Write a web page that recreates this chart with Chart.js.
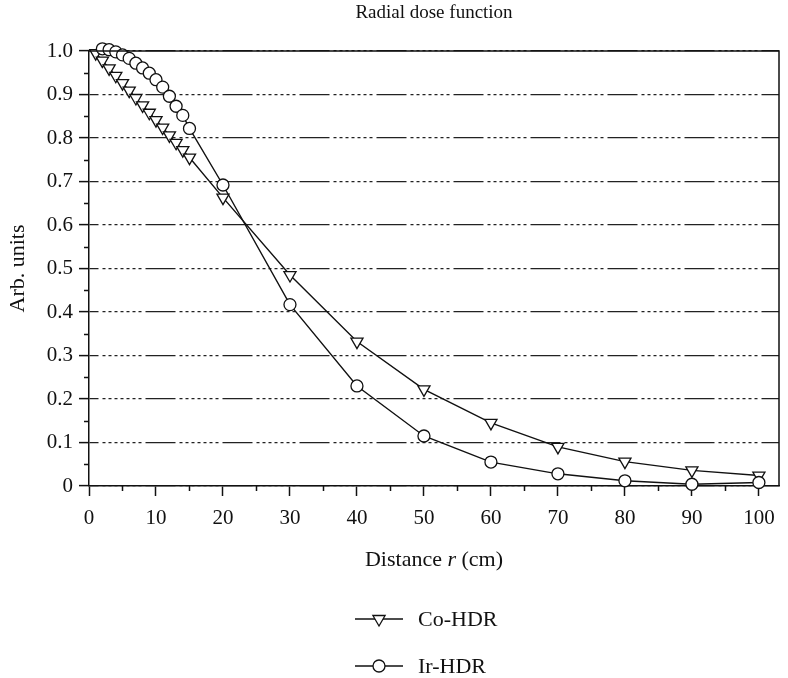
<!DOCTYPE html>
<html>
<head>
<meta charset="utf-8">
<title>Radial dose function</title>
<script src="https://cdn.jsdelivr.net/npm/chart.js@4.4.1/dist/chart.umd.min.js"></script>
<style>
  html, body { margin: 0; padding: 0; background: #fff; }
  #wrap { position: relative; width: 788px; height: 678px; }
  #chart { display: block; }
  .legend-item { position: absolute; display: flex; align-items: center; font: 22px "Liberation Serif", serif; color: #111; }
  .legend-item svg { display: block; }
  .legend-item span { margin-left: 15px; }
</style>
</head>
<body>
<div id="wrap">
  <canvas id="chart" width="788" height="678"></canvas>
</div>
<script>
// distances (cm) and relative dose values
const distCo = [1, 2, 3, 4, 5, 6, 7, 8, 9, 10, 11, 12, 13, 14, 15, 20, 30, 40, 50, 60, 70, 80, 90, 100];
const coHdr = [0.995, 0.978, 0.960, 0.943, 0.926, 0.909, 0.892, 0.875, 0.858, 0.841, 0.824, 0.806, 0.789, 0.772, 0.755,
               0.663, 0.485, 0.332, 0.222, 0.145, 0.090, 0.056, 0.036, 0.024];

const distIr = [2, 3, 4, 5, 6, 7, 8, 9, 10, 11, 12, 13, 14, 15, 20, 30, 40, 50, 60, 70, 80, 90, 100];
const irHdr = [1.005, 1.003, 0.998, 0.991, 0.983, 0.972, 0.961, 0.949, 0.934, 0.917, 0.896, 0.873, 0.852, 0.822,
               0.692, 0.417, 0.230, 0.115, 0.055, 0.028, 0.012, 0.004, 0.008];

const seriesLabels = ['Co-HDR', 'Ir-HDR'];

const xMajorTicks = [0, 10, 20, 30, 40, 50, 60, 70, 80, 90, 100];
const xMinorTicks = [5, 15, 25, 35, 45, 55, 65, 75, 85, 95];
const yMinorTicks = [0.05, 0.15, 0.25, 0.35, 0.45, 0.55, 0.65, 0.75, 0.85, 0.95];

const FONT = '"Liberation Serif", serif';
const INK = '#111';

Chart.defaults.font.family = FONT;
Chart.defaults.color = INK;

const toPoints = (xs, ys) => xs.map((x, i) => ({ x: x, y: ys[i] }));

// frame, minor ticks, title and x-axis title
const decorations = {
    id: 'decorations',
    afterDraw(chart) {
        const { ctx, chartArea: a, scales: { x, y } } = chart;
        ctx.save();
        ctx.strokeStyle = INK;
        ctx.lineWidth = 1.5;
        ctx.setLineDash([]);

        // top and right sides of the box
        ctx.beginPath();
        ctx.moveTo(a.left, a.top);
        ctx.lineTo(a.right, a.top);
        ctx.lineTo(a.right, a.bottom);
        ctx.stroke();

        // minor ticks
        ctx.beginPath();
        xMinorTicks.forEach(v => {
            const px = Math.round(x.getPixelForValue(v)) + 0.5;
            ctx.moveTo(px, a.bottom);
            ctx.lineTo(px, a.bottom + 5);
        });
        yMinorTicks.forEach(v => {
            const py = Math.round(y.getPixelForValue(v)) + 0.5;
            ctx.moveTo(a.left, py);
            ctx.lineTo(a.left - 5, py);
        });
        ctx.stroke();

        const cx = (a.left + a.right) / 2;
        ctx.fillStyle = INK;
        ctx.textBaseline = 'middle';

        // title
        ctx.font = '19px ' + FONT;
        ctx.textAlign = 'center';
        ctx.fillText('Radial dose function', cx, 13);

        // x-axis title with italic r
        const parts = [['Distance ', ''], ['r', 'italic '], [' (cm)', '']];
        let total = 0;
        parts.forEach(p => { ctx.font = p[1] + '22px ' + FONT; total += ctx.measureText(p[0]).width; });
        let tx = cx - total / 2;
        ctx.textAlign = 'left';
        parts.forEach(p => {
            ctx.font = p[1] + '22px ' + FONT;
            ctx.fillText(p[0], tx, 560);
            tx += ctx.measureText(p[0]).width;
        });
        ctx.restore();
    }
};

const ctx = document.getElementById('chart').getContext('2d');
const chart = new Chart(ctx, {
    type: 'line',
    data: {
        datasets: [{
            label: seriesLabels[0],
            data: toPoints(distCo, coHdr),
            borderColor: INK,
            borderWidth: 1.4,
            pointStyle: 'triangle',
            pointRotation: 180,
            pointRadius: 7,
            pointBackgroundColor: '#fff',
            pointBorderColor: INK,
            pointBorderWidth: 1.3,
            tension: 0,
            clip: false,
            order: 1
        }, {
            label: seriesLabels[1],
            data: toPoints(distIr, irHdr),
            borderColor: INK,
            borderWidth: 1.4,
            pointStyle: 'circle',
            pointRadius: 6,
            pointBackgroundColor: '#fff',
            pointBorderColor: INK,
            pointBorderWidth: 1.3,
            tension: 0,
            clip: false,
            order: 0
        }]
    },
    options: {
        responsive: false,
        animation: false,
        devicePixelRatio: 1,
        layout: { padding: { top: 51, right: 9, left: 0, bottom: 82 } },
        plugins: {
            legend: { display: false },
            title: { display: false },
            tooltip: { enabled: false }
        },
        scales: {
            x: {
                type: 'linear',
                min: 0,
                max: 103,
                afterBuildTicks: axis => { axis.ticks = xMajorTicks.map(v => ({ value: v })); },
                afterFit: axis => { axis.height = 110; },
                ticks: {
                    stepSize: 10,
                    padding: 10,
                    font: { size: 21 },
                    color: INK,
                    maxRotation: 0
                },
                grid: {
                    drawOnChartArea: false,
                    drawTicks: true,
                    tickLength: 10,
                    tickColor: INK,
                    tickWidth: 1.5
                },
                border: { display: true, color: INK, width: 1.5 }
            },
            y: {
                min: 0,
                max: 1,
                afterFit: axis => { axis.width = 89; },
                ticks: {
                    stepSize: 0.1,
                    padding: 6,
                    font: { size: 21 },
                    color: INK,
                    callback: v => (Math.abs(v) < 1e-9 ? '0' : Number(v).toFixed(1))
                },
                grid: {
                    color: '#222',
                    lineWidth: 1.2,
                    drawTicks: true,
                    tickLength: 10,
                    tickColor: INK,
                    tickWidth: 1.5
                },
                border: {
                    display: true,
                    color: INK,
                    width: 1.5,
                    // dotted run followed by one long dash, like the original grid
                    dash: [3, 3, 3, 3, 3, 3, 3, 3, 3, 3, 3, 3, 3, 4, 30, 4],
                    dashOffset: -13
                },
                title: {
                    display: true,
                    text: 'Arb. units',
                    font: { size: 22 },
                    color: INK,
                    padding: { top: 5, bottom: 0 }
                }
            }
        }
    },
    plugins: [decorations]
});

// legend: stacked rows under the plot
const wrap = document.getElementById('wrap');
const legendRows = [
    { label: seriesLabels[0], top: 620, marker: '<polygon points="24,19 17.9,8.5 30.1,8.5" fill="#fff" stroke="#111" stroke-width="1.3"/>' },
    { label: seriesLabels[1], top: 667, marker: '<circle cx="24" cy="12" r="6" fill="#fff" stroke="#111" stroke-width="1.3"/>' }
];
legendRows.forEach(row => {
    const item = document.createElement('div');
    item.className = 'legend-item';
    item.style.left = '355px';
    item.style.top = (row.top - 14) + 'px';
    item.innerHTML = '<svg width="48" height="24" viewBox="0 0 48 24">' +
        '<line x1="0" y1="12" x2="48" y2="12" stroke="#111" stroke-width="1.5"/>' + row.marker +
        '</svg><span>' + row.label + '</span>';
    wrap.appendChild(item);
});
</script>
</body>
</html>
